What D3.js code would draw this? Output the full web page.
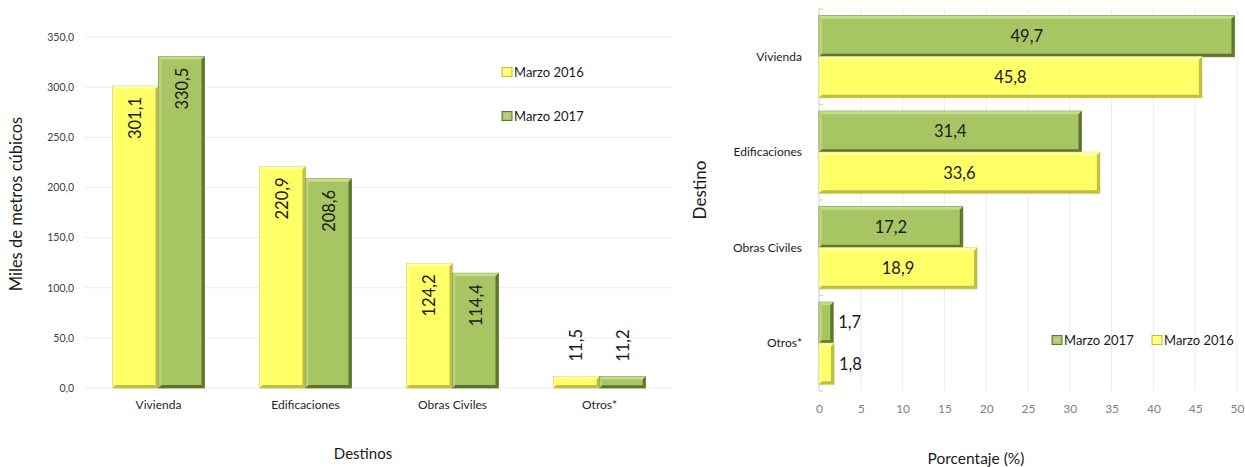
<!DOCTYPE html>
<html>
<head>
<meta charset="utf-8">
<script src="https://cdn.jsdelivr.net/npm/d3@7"></script>
<style>
  html, body { margin: 0; padding: 0; background: #fff; }
  svg { display: block; font-family: Lato, "Open Sans", sans-serif; }
</style>
</head>
<body>
<svg id="chart" width="1245" height="467"></svg>
<script>
// ---------- DATA ----------
const categories = ["Vivienda", "Edificaciones", "Obras Civiles", "Otros*"];
const seriesNames = ["Marzo 2016", "Marzo 2017"];
const volume2016 = [301.1, 220.9, 124.2, 11.5];
const volume2017 = [330.5, 208.6, 114.4, 11.2];
const pct2017 = [49.7, 31.4, 17.2, 1.7];
const pct2016 = [45.8, 33.6, 18.9, 1.8];
const leftTicks = [0, 50, 100, 150, 200, 250, 300, 350];
const rightTicks = [0, 5, 10, 15, 20, 25, 30, 35, 40, 45, 50];

// ---------- STYLE ----------
const YELLOW = { fill: "#FFFF66", light: "#FFFFA8", dark: "#BDBD48", edge: "#D8D860" };
const GREEN = { fill: "#A8C563", light: "#C4DC8A", dark: "#5E7530", edge: "#7E9A45" };
const fmt = v => d3.format(".1f")(v).replace(".", ",");

const svg = d3.select("#chart");

function bevelRect(g, x, y, w, h, c) {
  g.append("rect").attr("x", x).attr("y", y).attr("width", w).attr("height", h)
    .attr("fill", c.fill).attr("stroke", c.edge).attr("stroke-width", 1);
  const b = Math.min(3, w / 4, h / 4);
  g.append("path").attr("d", `M${x},${y}H${x + w}L${x + w - b},${y + b}H${x + b}Z`).attr("fill", c.light);
  g.append("path").attr("d", `M${x},${y}V${y + h}L${x + b},${y + h - b}V${y + b}Z`).attr("fill", c.light).attr("opacity", 0.6);
  g.append("path").attr("d", `M${x + w},${y}V${y + h}L${x + w - b},${y + h - b}V${y + b}Z`).attr("fill", c.dark);
  g.append("path").attr("d", `M${x},${y + h}H${x + w}L${x + w - b},${y + h - b}H${x + b}Z`).attr("fill", c.dark);
}

function legendMarker(g, x, y, c) {
  g.append("rect").attr("x", x).attr("y", y).attr("width", 10).attr("height", 9)
    .attr("fill", c.fill).attr("stroke", c.dark).attr("stroke-width", 1);
  g.append("rect").attr("x", x + 2).attr("y", y + 2).attr("width", 6).attr("height", 5)
    .attr("fill", c.light).attr("opacity", 0.6);
}

// ================= LEFT CHART =================
{
  const g = svg.append("g");
  const x0 = d3.scaleBand().domain(categories).range([85, 673]).paddingInner(0.374).paddingOuter(0.187);
  const x1 = d3.scaleBand().domain(seriesNames).range([0, x0.bandwidth()]);
  const y = d3.scaleLinear().domain([0, 350]).range([388, 37]);

  g.append("g").selectAll("line").data(leftTicks).join("line")
    .attr("x1", 85).attr("x2", 673)
    .attr("y1", d => y(d)).attr("y2", d => y(d))
    .attr("stroke", "#EBEBEB").attr("stroke-width", 1);

  const yAxis = d3.axisLeft(y).tickValues(leftTicks).tickFormat(fmt).tickSize(0).tickPadding(0);
  const ya = g.append("g").attr("transform", "translate(74,0)").call(yAxis);
  ya.select(".domain").remove();
  ya.selectAll("text").attr("font-size", 10.5).attr("fill", "#404040").attr("font-family", "Lato, sans-serif");

  const xAxis = d3.axisBottom(x0).tickSize(0).tickPadding(0);
  const xa = g.append("g").attr("transform", "translate(0,400)").call(xAxis);
  xa.select(".domain").remove();
  xa.selectAll("text").attr("font-size", 12).attr("fill", "#262626").attr("font-family", "Lato, sans-serif");

  const series = [
    { name: seriesNames[0], values: volume2016, c: YELLOW },
    { name: seriesNames[1], values: volume2017, c: GREEN }
  ];
  series.forEach(s => {
    s.values.forEach((v, i) => {
      const bx = x0(categories[i]) + x1(s.name);
      const bw = x1.bandwidth();
      const by = y(v);
      const bh = y(0) - y(v);
      bevelRect(g, bx, by, bw, bh, s.c);
      const cx = bx + bw / 2;
      const inside = bh > 60;
      const ty = inside ? by + 11 : by - 15;
      g.append("text")
        .attr("transform", `translate(${cx + 6},${ty}) rotate(-90)`)
        .attr("text-anchor", inside ? "end" : "start")
        .attr("font-size", 16.5)
        .attr("fill", "#1a1a1a")
        .text(fmt(v));
    });
  });

  const lg = g.append("g");
  [[seriesNames[0], YELLOW, 72], [seriesNames[1], GREEN, 116]].forEach(([n, c, cy]) => {
    legendMarker(lg, 502, cy - 4.5, c);
    lg.append("text").attr("x", 514).attr("y", cy).attr("dy", "0.35em")
      .attr("font-size", 13).attr("fill", "#1a1a1a").text(n);
  });

  g.append("text").attr("transform", "translate(22,204) rotate(-90)")
    .attr("text-anchor", "middle").attr("font-size", 16.5).attr("fill", "#1a1a1a")
    .text("Miles de metros cúbicos");
  g.append("text").attr("x", 363).attr("y", 454).attr("dy", "0.35em")
    .attr("text-anchor", "middle").attr("font-size", 15).attr("fill", "#1a1a1a")
    .text("Destinos");
}

// ================= RIGHT CHART =================
{
  const g = svg.append("g");
  const x = d3.scaleLinear().domain([0, 50]).range([819, 1237]);
  const y0 = d3.scaleBand().domain(categories).range([9, 391]).paddingInner(0.14).paddingOuter(0.07);
  const y1 = d3.scaleBand().domain(["Marzo 2017", "Marzo 2016"]).range([0, y0.bandwidth()]);

  g.append("g").selectAll("line").data(rightTicks.slice(1)).join("line")
    .attr("x1", d => x(d)).attr("x2", d => x(d))
    .attr("y1", 9).attr("y2", 391)
    .attr("stroke", "#EBEBEB").attr("stroke-width", 1);

  g.append("line").attr("x1", 819).attr("x2", 819).attr("y1", 9).attr("y2", 391)
    .attr("stroke", "#D0D0D0");
  const bounds = categories.map(c => y0(c) - y0.step() * y0.paddingInner() / 2);
  bounds.push(391);
  g.append("g").selectAll("line").data([9, ...bounds.slice(1)]).join("line")
    .attr("x1", 819).attr("x2", 823).attr("y1", d => d).attr("y2", d => d)
    .attr("stroke", "#D0D0D0");

  const xAxis = d3.axisBottom(x).tickValues(rightTicks).tickSize(0).tickPadding(0).tickFormat(d3.format("d"));
  const xa = g.append("g").attr("transform", "translate(0,404)").call(xAxis);
  xa.select(".domain").remove();
  xa.selectAll("text").attr("font-size", 12).attr("fill", "#808080").attr("font-family", "Lato, sans-serif");

  g.append("g").selectAll("text").data(categories).join("text")
    .attr("x", 802).attr("y", d => y0(d) + y0.bandwidth() / 2).attr("dy", "0.35em")
    .attr("text-anchor", "end").attr("font-size", 12).attr("fill", "#1a1a1a")
    .text(d => d);

  const series = [
    { name: "Marzo 2017", values: pct2017, c: GREEN },
    { name: "Marzo 2016", values: pct2016, c: YELLOW }
  ];
  series.forEach(s => {
    s.values.forEach((v, i) => {
      const by = y0(categories[i]) + y1(s.name);
      const bh = y1.bandwidth();
      const bx = x(0);
      const bw = x(v) - x(0);
      bevelRect(g, bx, by, bw, bh, s.c);
      const inside = bw > 40;
      g.append("text")
        .attr("x", inside ? bx + bw / 2 : bx + bw + 5)
        .attr("y", by + bh / 2).attr("dy", "0.35em")
        .attr("text-anchor", inside ? "middle" : "start")
        .attr("font-size", 16.5).attr("fill", "#1a1a1a")
        .text(fmt(v));
    });
  });

  const lg = g.append("g");
  legendMarker(lg, 1052, 335.5, GREEN);
  lg.append("text").attr("x", 1064).attr("y", 340).attr("dy", "0.35em").attr("font-size", 13)
    .attr("fill", "#1a1a1a").text("Marzo 2017");
  legendMarker(lg, 1152, 335.5, YELLOW);
  lg.append("text").attr("x", 1164).attr("y", 340).attr("dy", "0.35em").attr("font-size", 13)
    .attr("fill", "#1a1a1a").text("Marzo 2016");

  g.append("text").attr("transform", "translate(706,190) rotate(-90)")
    .attr("text-anchor", "middle").attr("font-size", 17).attr("fill", "#1a1a1a")
    .text("Destino");
  g.append("text").attr("x", 976).attr("y", 459).attr("dy", "0.35em")
    .attr("text-anchor", "middle").attr("font-size", 15.5).attr("fill", "#1a1a1a")
    .text("Porcentaje (%)");
}
</script>
</body>
</html>
